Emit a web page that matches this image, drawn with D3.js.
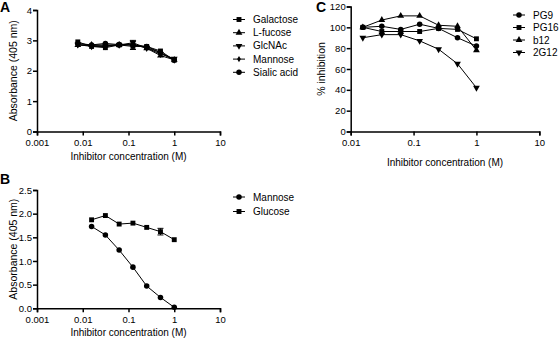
<!DOCTYPE html>
<html>
<head>
<meta charset="utf-8">
<script src="https://cdn.jsdelivr.net/npm/d3@7"></script>
<style>
  body { margin: 0; background: #fff; }
  svg { font-family: "Liberation Sans", Arial, sans-serif; }
  .axis path, .axis line { stroke: #000; stroke-width: 1.5px; }
  .axis text { font-size: 9.5px; fill: #000; }
</style>
</head>
<body>
<div id="chart"></div>
<script>
// ---- data ----
const concA = [0.0078, 0.0156, 0.03125, 0.0625, 0.125, 0.25, 0.5, 1];
const galactose = [2.95, 2.80, 2.76, 2.85, 2.80, 2.80, 2.65, 2.35];
const lFucose   = [2.85, 2.85, 2.85, 2.85, 2.88, 2.74, 2.50, 2.36];
const glcnac    = [2.86, 2.80, 2.80, 2.85, 2.92, 2.75, 2.55, 2.40];
const mannoseA  = [2.85, 2.83, 2.82, 2.85, 2.85, 2.76, 2.60, 2.34];
const sialic    = [2.90, 2.85, 2.90, 2.86, 2.85, 2.80, 2.60, 2.35];
const errA      = [0, 0, 0, 0, 0.15, 0, 0, 0];

const concB = [0.0156, 0.03125, 0.0625, 0.125, 0.25, 0.5, 1];
const mannoseB = [1.73, 1.55, 1.23, 0.87, 0.47, 0.23, 0.02];
const glucoseB = [1.87, 1.96, 1.78, 1.80, 1.71, 1.62, 1.45];
const errGlucose = [0, 0, 0, 0, 0, 0.07, 0];

const concC = [0.0156, 0.03125, 0.0625, 0.125, 0.25, 0.5, 1];
const pg9  = [100, 101, 98, 103, 99, 90, 82];
const pg16 = [100, 96, 96, 96, 99, 98, 89];
const b12  = [100, 107, 111, 111, 102, 101, 78];
const g2g12 = [90, 93, 93, 87, 79, 65, 42];

const xTicksAB = [0.001, 0.01, 0.1, 1, 10];
const xTicksC = [0.01, 0.1, 1, 10];
const yTicksA = [0, 1, 2, 3, 4];
const yTicksB = [0, 0.5, 1.0, 1.5, 2.0, 2.5];
const yTicksC = [0, 20, 40, 60, 80, 100, 120];

const width = 560, height = 339;
const svg = d3.select('#chart').append('svg')
  .attr('width', width)
  .attr('height', height);

function symbolFor(name) {
  return name === 'square' ? d3.symbolSquare :
         name === 'triangle' ? d3.symbolTriangle :
         name === 'triangleDown' ? d3.symbolTriangle :
         name === 'diamond' ? d3.symbolDiamond :
         d3.symbolCircle;
}

function drawPanel(p) {
  const x = d3.scaleLog().domain(p.xDomain).range(p.xRange);
  const y = d3.scaleLinear().domain(p.yDomain).range(p.yRange);

  svg.append('g')
    .attr('class', 'axis')
    .attr('transform', `translate(0,${p.yRange[0]})`)
    .call(d3.axisBottom(x).tickValues(p.xTicks).tickSize(4).tickPadding(3.5)
      .tickFormat(d => String(d)));

  svg.append('g')
    .attr('class', 'axis')
    .attr('transform', `translate(${p.xRange[0]},0)`)
    .call(d3.axisLeft(y).tickValues(p.yTicks).tickSize(4).tickPadding(1)
      .tickFormat(p.yFormat));

  const line = d3.line()
    .x(d => x(d[0]))
    .y(d => y(d[1]));

  p.series.forEach(s => {
    const pts = p.conc.map((c, i) => [c, s.values[i]]);
    svg.append('path')
      .datum(pts)
      .attr('d', line)
      .attr('fill', 'none')
      .attr('stroke', '#000')
      .attr('stroke-width', 1);

    if (s.err) {
      s.err.forEach((e, i) => {
        if (!e) return;
        const cx = x(p.conc[i]);
        const y1 = y(s.values[i] - e), y2 = y(s.values[i] + e);
        svg.append('path')
          .attr('d', `M${cx},${y1}V${y2}M${cx - 3},${y1}H${cx + 3}M${cx - 3},${y2}H${cx + 3}`)
          .attr('stroke', '#000')
          .attr('stroke-width', 1);
      });
    }

    svg.append('g').selectAll('path')
      .data(pts)
      .join('path')
      .attr('transform', d => `translate(${x(d[0])},${y(d[1])})` + (s.symbol === 'triangleDown' ? ' rotate(180)' : ''))
      .attr('d', d3.symbol().type(symbolFor(s.symbol)).size(s.size || 22))
      .attr('fill', '#000');
  });

  // legend
  p.series.forEach((s, i) => {
    const ly = p.legendY + i * p.legendStep;
    const lg = svg.append('g');
    lg.append('line')
      .attr('x1', p.legendX).attr('x2', p.legendX + 12)
      .attr('y1', ly).attr('y2', ly)
      .attr('stroke', '#000').attr('stroke-width', 1);
    lg.append('path')
      .attr('transform', `translate(${p.legendX + 6},${ly})` + (s.symbol === 'triangleDown' ? ' rotate(180)' : ''))
      .attr('d', d3.symbol().type(symbolFor(s.symbol)).size(s.size || 22))
      .attr('fill', '#000');
    lg.append('text')
      .attr('x', p.legendX + 20)
      .attr('y', ly)
      .attr('dy', '0.35em')
      .attr('font-size', '10px')
      .text(s.name);
  });

  // axis titles
  svg.append('text')
    .attr('x', (p.xRange[0] + p.xRange[1]) / 2)
    .attr('y', p.xLabelY)
    .attr('text-anchor', 'middle')
    .attr('font-size', '10px')
    .text('Inhibitor concentration (M)');

  svg.append('text')
    .attr('transform', `translate(${p.yLabelX},${(p.yRange[0] + p.yRange[1]) / 2}) rotate(-90)`)
    .attr('text-anchor', 'middle')
    .attr('font-size', '10.5px')
    .text(p.yLabel);

  svg.append('text')
    .attr('x', p.letterX)
    .attr('y', p.letterY)
    .attr('font-size', '14px')
    .attr('font-weight', 'bold')
    .text(p.letter);
}

drawPanel({
  letter: 'A', letterX: 0, letterY: 12,
  conc: concA,
  xDomain: [0.001, 10], xRange: [37, 220], xTicks: xTicksAB,
  yDomain: [0, 4], yRange: [131.5, 10], yTicks: yTicksA,
  yFormat: d3.format('d'),
  yLabel: 'Absorbance (405  nm)', yLabelX: 17, xLabelY: 160,
  legendX: 233, legendY: 19.5, legendStep: 13.2,
  series: [
    { name: 'Galactose', values: galactose, symbol: 'square', size: 24 },
    { name: 'L-fucose', values: lFucose, symbol: 'triangle', size: 20 },
    { name: 'GlcNAc', values: glcnac, symbol: 'triangleDown', size: 20 },
    { name: 'Mannose', values: mannoseA, symbol: 'diamond', size: 12, err: errA },
    { name: 'Sialic acid', values: sialic, symbol: 'circle', size: 24 }
  ]
});

drawPanel({
  letter: 'B', letterX: 0, letterY: 184,
  conc: concB,
  xDomain: [0.001, 10], xRange: [37, 220], xTicks: xTicksAB,
  yDomain: [0, 2.5], yRange: [308.3, 190], yTicks: yTicksB,
  yFormat: d3.format('.1f'),
  yLabel: 'Absorbance (405  nm)', yLabelX: 17, xLabelY: 336,
  legendX: 233, legendY: 197, legendStep: 14.5,
  series: [
    { name: 'Mannose', values: mannoseB, symbol: 'circle', size: 24 },
    { name: 'Glucose', values: glucoseB, symbol: 'square', size: 24, err: errGlucose }
  ]
});

drawPanel({
  letter: 'C', letterX: 316, letterY: 12,
  conc: concC,
  xDomain: [0.01, 10], xRange: [350.7, 539.3], xTicks: xTicksC,
  yDomain: [0, 120], yRange: [131.5, 6.5], yTicks: yTicksC,
  yFormat: d3.format('d'),
  yLabel: '% inhibition', yLabelX: 325, xLabelY: 166,
  legendX: 513, legendY: 15, legendStep: 12.5,
  series: [
    { name: 'PG9', values: pg9, symbol: 'circle', size: 24 },
    { name: 'PG16', values: pg16, symbol: 'square', size: 24 },
    { name: 'b12', values: b12, symbol: 'triangle', size: 20 },
    { name: '2G12', values: g2g12, symbol: 'triangleDown', size: 20 }
  ]
});
</script>
</body>
</html>
